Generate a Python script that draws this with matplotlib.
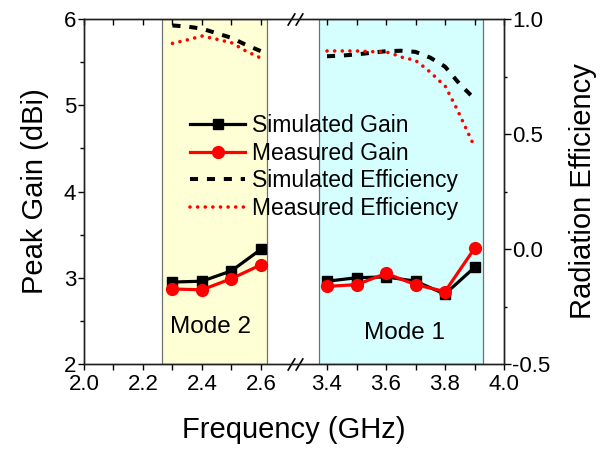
import numpy as np
import matplotlib
matplotlib.use("Agg")
import matplotlib.pyplot as plt
import matplotlib.transforms as mtransforms
from matplotlib.ticker import FixedLocator

plt.rcParams['font.family'] = ['Liberation Sans', 'DejaVu Sans']

# ---------------- data ----------------
freq_mode2 = [2.3, 2.4, 2.5, 2.6]
sim_gain_mode2 = [2.95, 2.96, 3.08, 3.33]
meas_gain_mode2 = [2.87, 2.86, 2.99, 3.15]

freq_mode1 = [3.4, 3.5, 3.6, 3.7, 3.8, 3.9]
sim_gain_mode1 = [2.96, 3.00, 3.01, 2.96, 2.81, 3.12]
meas_gain_mode1 = [2.90, 2.92, 3.05, 2.92, 2.84, 3.34]

freq_eff_sim_m2 = [2.30, 2.35, 2.40, 2.45, 2.50, 2.55, 2.60]
sim_eff_m2 = [0.972, 0.967, 0.958, 0.938, 0.918, 0.887, 0.860]
freq_eff_meas_m2 = [2.30, 2.35, 2.40, 2.45, 2.50, 2.55, 2.60]
meas_eff_m2 = [0.894, 0.909, 0.926, 0.912, 0.897, 0.860, 0.830]

freq_eff_sim_m1 = [3.40, 3.45, 3.50, 3.55, 3.60, 3.65, 3.70, 3.75, 3.80, 3.85, 3.90]
sim_eff_m1 = [0.838, 0.841, 0.846, 0.853, 0.860, 0.862, 0.857, 0.832, 0.793, 0.717, 0.653]
freq_eff_meas_m1 = [3.40, 3.45, 3.50, 3.55, 3.60, 3.63, 3.65, 3.70, 3.72, 3.74, 3.76,
                    3.78, 3.80, 3.82, 3.84, 3.86, 3.88, 3.90]
meas_eff_m1 = [0.861, 0.861, 0.861, 0.858, 0.857, 0.845, 0.835, 0.820, 0.800, 0.780, 0.757,
               0.732, 0.710, 0.660, 0.610, 0.555, 0.500, 0.445]

x_ticks = [2.0, 2.2, 2.4, 2.6, 3.4, 3.6, 3.8, 4.0]
x_tick_labels = ["2.0", "2.2", "2.4", "2.6", "3.4", "3.6", "3.8", "4.0"]
x_minor = [2.1, 2.3, 2.5, 3.5, 3.7, 3.9]
gain_ticks = [2, 3, 4, 5, 6]
eff_ticks = [-0.5, 0.0, 0.5, 1.0]
eff_tick_labels = ["-0.5", "0.0", "0.5", "1.0"]

mode2_band = (2.263, 2.622)
mode1_band = (3.374, 3.928)

# ---------------- broken x scale ----------------
B = 2.714   # break position
G = 0.576   # removed gap

def fwd(x):
    x = np.asarray(x, dtype=float)
    return np.where(x <= B, x, np.where(x >= B + G, x - G, B))

def inv(y):
    y = np.asarray(y, dtype=float)
    return np.where(y <= B, y, y + G)

fig = plt.figure(figsize=(6.09, 4.49), dpi=100)
ax = fig.add_axes([84/609, 1 - 364/449, 420/609, 345/449])
ax.set_xscale('function', functions=(fwd, inv))
ax.set_xlim(2.0, 4.0)
ax.set_ylim(2, 6)

ax2 = ax.twinx()
ax2.set_ylim(-0.5, 1.0)

# background bands
ax.axvspan(*mode2_band, facecolor='#FFFFD5', edgecolor='#707070', lw=0.9, zorder=0)
ax.axvspan(*mode1_band, facecolor='#D5FFFF', edgecolor='#707070', lw=0.9, zorder=0)

# gain curves
lw = 2.3
h1, = ax.plot(freq_mode2, sim_gain_mode2, color='black', lw=lw, marker='s', ms=7.5,
              label='Simulated Gain', zorder=3)
ax.plot(freq_mode1, sim_gain_mode1, color='black', lw=lw, marker='s', ms=7.5, zorder=3)
h2, = ax.plot(freq_mode2, meas_gain_mode2, color='red', lw=lw, marker='o', ms=8.5,
              label='Measured Gain', zorder=4)
ax.plot(freq_mode1, meas_gain_mode1, color='red', lw=lw, marker='o', ms=8.5, zorder=4)

# efficiency curves
dash = (0, (2.0, 2.2))
dot = (0, (0.01, 2.1))
h3, = ax2.plot(freq_eff_sim_m2, sim_eff_m2, color='black', lw=2.9, linestyle=dash,
               label='Simulated Efficiency')
ax2.plot(freq_eff_sim_m1, sim_eff_m1, color='black', lw=2.9, linestyle=dash)
h4, = ax2.plot(freq_eff_meas_m2, meas_eff_m2, color='red', lw=2.6, linestyle=dot,
               dash_capstyle='round', label='Measured Efficiency')
ax2.plot(freq_eff_meas_m1, meas_eff_m1, color='red', lw=2.6, linestyle=dot,
         dash_capstyle='round')

# ticks
ax.xaxis.set_major_locator(FixedLocator(x_ticks))
ax.set_xticklabels(x_tick_labels)
ax.xaxis.set_minor_locator(FixedLocator(x_minor))
ax.set_yticks(gain_ticks)
ax.yaxis.set_minor_locator(FixedLocator([2.5, 3.5, 4.5, 5.5]))
ax2.set_yticks(eff_ticks)
ax2.set_yticklabels(eff_tick_labels)
ax2.yaxis.set_minor_locator(FixedLocator([-0.25, 0.25, 0.75]))

tick_fs = 16
ax.tick_params(axis='x', which='both', direction='out', bottom=True, top=False,
               labelsize=tick_fs, length=4, width=1, pad=3)
ax.tick_params(axis='y', which='major', direction='out', left=True, right=False,
               labelsize=tick_fs, length=4.5, width=1, pad=1)
ax.tick_params(axis='y', which='minor', direction='out', left=True, right=False,
               length=3, width=1)
ax2.tick_params(axis='y', which='major', direction='out', right=True, left=False,
                labelsize=tick_fs, length=5, width=1, pad=1)
ax2.tick_params(axis='y', which='minor', direction='out', right=True, left=False,
                length=2.5, width=1)
# top ticks pointing inward
ax2.xaxis.set_visible(True)
ax2.tick_params(axis='x', which='both', direction='in', top=True, bottom=False,
                labeltop=False, labelbottom=False, length=4, width=1)

for a in (ax, ax2):
    for s in a.spines.values():
        s.set_linewidth(1.0)
        s.set_color('#202020')

# labels
ax.set_xlabel('Frequency (GHz)', fontsize=21, labelpad=15)
ax.set_ylabel('Peak Gain (dBi)', fontsize=21, labelpad=11)
ax2.set_ylabel('Radiation Efficiency', fontsize=21, labelpad=13)

ax.text(2.43, 2.43, 'Mode 2', fontsize=17.5, ha='center', va='center', zorder=5)
ax.text(3.664, 2.36, 'Mode 1', fontsize=17.5, ha='center', va='center', zorder=5)

# break marks
trans = mtransforms.blended_transform_factory(ax.transData, ax.transAxes)
slash = [(-0.6, -1.0), (0.6, 1.0)]
for yb in (0.0, 1.0):
    for dx in (-2.9, 2.9):
        off = mtransforms.ScaledTranslation(dx / 72, 0, fig.dpi_scale_trans)
        ax.plot([B], [yb], transform=trans + off, marker=slash, ms=9,
                mec='black', mew=1.2, ls='none', clip_on=False, zorder=6)

# legend
leg = ax.legend(handles=[h1, h2, h3, h4], loc='upper left',
                bbox_to_anchor=(190/609, 1 - 114/449), bbox_transform=fig.transFigure,
                frameon=False, fontsize=16.5, handlelength=2.4, handletextpad=0.3,
                labelspacing=0.2, borderpad=0, borderaxespad=0)
leg.set_zorder(10)

fig.savefig('out.png', dpi=100)
